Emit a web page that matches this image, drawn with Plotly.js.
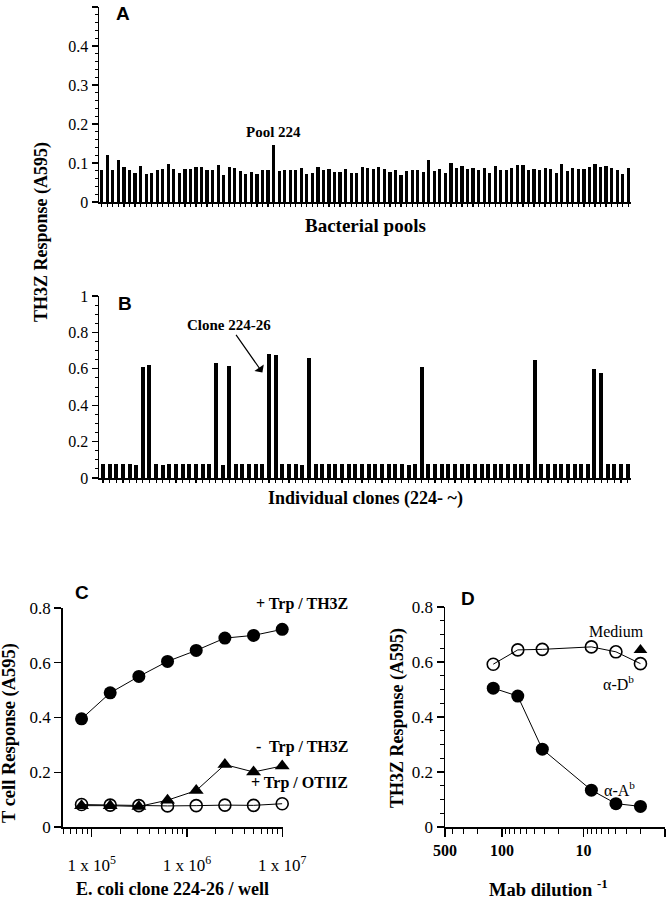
<!DOCTYPE html>
<html>
<head>
<meta charset="utf-8">
<script src="https://cdn.plot.ly/plotly-3.0.1.min.js"></script>
<style>html,body{margin:0;padding:0;background:#fff}#chart{width:667px;height:900px}</style>
</head>
<body>
<div id="chart"></div>
<script>
// ---------- DATA ----------
// Panel A: 96 bacterial pools, TH3Z response (A595)
const poolValues = [
  0.083,0.120,0.081,0.107,0.090,0.081,0.074,0.092,0.073,0.074,0.083,0.085,0.097,0.085,0.074,0.085,
  0.084,0.091,0.091,0.083,0.083,0.094,0.068,0.089,0.087,0.080,0.073,0.077,0.071,0.083,0.083,0.147,
  0.080,0.083,0.083,0.083,0.088,0.073,0.075,0.091,0.083,0.084,0.077,0.077,0.085,0.074,0.074,
  0.090,0.087,0.085,0.091,0.085,0.077,0.081,0.068,0.079,0.081,0.083,0.077,0.107,0.079,0.085,0.075,
  0.101,0.087,0.092,0.085,0.088,0.083,0.088,0.074,0.092,0.081,0.081,0.088,0.094,0.094,0.081,0.085,
  0.083,0.088,0.085,0.075,0.097,0.079,0.088,0.085,0.085,0.090,0.098,0.091,0.092,0.088,0.081,0.073,0.088
];
const poolLabel = "Pool 224";
const poolHighlightIndex = 32;

// Panel B: 80 individual clones (224-1 ... 224-80)
const cloneValues = [
  0.078,0.075,0.075,0.076,0.076,0.074,0.610,0.622,0.075,0.073,0.075,0.077,0.076,0.076,0.076,0.077,
  0.078,0.633,0.074,0.615,0.076,0.076,0.078,0.078,0.077,0.680,0.675,0.075,0.075,0.076,0.074,0.660,
  0.078,0.077,0.077,0.076,0.077,0.077,0.075,0.076,0.077,0.075,0.078,0.075,0.075,0.076,0.074,0.076,
  0.610,0.075,0.076,0.075,0.076,0.077,0.075,0.076,0.077,0.077,0.076,0.075,0.078,0.078,0.077,0.076,
  0.075,0.650,0.076,0.077,0.077,0.076,0.076,0.075,0.076,0.075,0.600,0.575,0.075,0.077,0.077,0.076
];
const cloneLabel = "Clone 224-26";
const cloneHighlightIndex = 26;

// Panel C: E. coli clone 224-26 per well
const cellsPerWell = [78125, 156250, 312500, 625000, 1250000, 2500000, 5000000, 10000000];
const trpTH3Z   = [0.395, 0.490, 0.550, 0.605, 0.645, 0.690, 0.700, 0.722];
const noTrpTH3Z = [0.078, 0.078, 0.075, 0.098, 0.133, 0.228, 0.201, 0.223];
const trpOTIIZ  = [0.082, 0.080, 0.078, 0.077, 0.078, 0.080, 0.079, 0.085];
const cTickVals = [1e5, 1e6, 1e7];
const cTickText = ["1 x 10<sup>5</sup>", "1 x 10<sup>6</sup>", "1 x 10<sup>7</sup>"];

// Panel D: Mab dilution^-1
const mabDilution = [128, 64, 32, 8, 4, 2];
const alphaDb = [0.592, 0.644, 0.646, 0.655, 0.637, 0.594];
const alphaAb = [0.505, 0.476, 0.283, 0.134, 0.085, 0.075];
const mediumDilution = [2];
const mediumValue = [0.644];
const dTickVals = [500, 100, 10, 1];
const dTickText = ["500", "100", "10", "1"];

// ---------- LAYOUT HELPERS ----------
const W = 667, H = 900;
const px = x => x / W;
const py = y => 1 - y / H;
const SERIF = "Liberation Serif, Times New Roman, serif";
const SANS = "Liberation Sans, Arial, sans-serif";

const poolIdx = poolValues.map((_, i) => i + 1);
const cloneIdx = cloneValues.map((_, i) => i + 1);

const openCircle = {symbol:'circle-open', size:12, color:'#000', line:{width:1.6, color:'#000'}};
const filledCircle = {symbol:'circle', size:13, color:'#000'};
const triangle = {symbol:'triangle-up', size:13, color:'#000'};

const traces = [
  {type:'bar', x: poolIdx, y: poolValues, xaxis:'x', yaxis:'y', width:0.58,
   marker:{color:'#000'}, hoverinfo:'skip'},
  {type:'bar', x: cloneIdx, y: cloneValues, xaxis:'x2', yaxis:'y2', width:0.6,
   marker:{color:'#000'}, hoverinfo:'skip'},
  {type:'scatter', mode:'lines+markers', x: cellsPerWell, y: trpOTIIZ, xaxis:'x3', yaxis:'y3', cliponaxis:false,
   line:{color:'#000', width:1}, marker:openCircle},
  {type:'scatter', mode:'lines+markers', x: cellsPerWell, y: noTrpTH3Z, xaxis:'x3', yaxis:'y3', cliponaxis:false,
   line:{color:'#000', width:1}, marker:triangle},
  {type:'scatter', mode:'lines+markers', x: cellsPerWell, y: trpTH3Z, xaxis:'x3', yaxis:'y3', cliponaxis:false,
   line:{color:'#000', width:1}, marker:filledCircle},
  {type:'scatter', mode:'lines+markers', x: mabDilution, y: alphaDb, xaxis:'x4', yaxis:'y4', cliponaxis:false,
   line:{color:'#000', width:1}, marker:openCircle},
  {type:'scatter', mode:'lines+markers', x: mabDilution, y: alphaAb, xaxis:'x4', yaxis:'y4', cliponaxis:false,
   line:{color:'#000', width:1}, marker:filledCircle},
  {type:'scatter', mode:'markers', x: mediumDilution, y: mediumValue, xaxis:'x4', yaxis:'y4', cliponaxis:false,
   marker:{symbol:'triangle-up', size:12, color:'#000'}}
];

const axBase = {showline:true, linecolor:'#000', linewidth:1.5, ticks:'outside', tickcolor:'#000',
  tickwidth:1.2, showgrid:false, zeroline:false, fixedrange:true,
  tickfont:{family:SERIF, size:16, color:'#000'}};

const layout = {
  width: W, height: H, margin:{l:0, r:0, t:0, b:0},
  paper_bgcolor:'#fff', plot_bgcolor:'rgba(0,0,0,0)', showlegend:false,
  font:{family:SERIF, color:'#000'},
  bargap: 0,
  xaxis: Object.assign({}, axBase, {domain:[px(99), px(631)], anchor:'y', range:[0.5, poolValues.length + 0.5],
    tickmode:'linear', tick0:1, dtick:1, ticklen:3, showticklabels:false}),
  yaxis: Object.assign({}, axBase, {domain:[py(202), py(7)], anchor:'x', range:[0, 0.5],
    tickmode:'array', tickvals:[0,0.1,0.2,0.3,0.4,0.5], ticktext:['0','0.1','0.2','0.3','0.4','0.5'],
    ticklen:6, minor:{dtick:0.02, ticklen:3, ticks:'outside', tickcolor:'#000', tickwidth:1}}),
  xaxis2: Object.assign({}, axBase, {domain:[px(99), px(631)], anchor:'y2', range:[0.4, cloneValues.length + 0.5],
    tickmode:'linear', tick0:1, dtick:1, ticklen:3, showticklabels:false}),
  yaxis2: Object.assign({}, axBase, {domain:[py(478), py(296)], anchor:'x2', range:[0, 1],
    tickmode:'array', tickvals:[0,0.2,0.4,0.6,0.8,1], ticktext:['0','0.2','0.4','0.6','0.8','1'],
    ticklen:6, minor:{dtick:0.05, ticklen:3, ticks:'outside', tickcolor:'#000', tickwidth:1}}),
  xaxis3: Object.assign({}, axBase, {domain:[px(62.7), px(282.5)], anchor:'y3', type:'log',
    range:[4.695, 7.003], tickmode:'array', tickvals:cTickVals, ticktext:cTickText, ticklen:8,
    ticklabelstandoff:14, tickfont:{family:SERIF, size:17, color:'#000'},
    minor:{dtick:'D1', ticklen:5, ticks:'outside', tickcolor:'#000', tickwidth:1}}),
  yaxis3: Object.assign({}, axBase, {domain:[py(827), py(608)], anchor:'x3', range:[0, 0.8],
    tickmode:'array', tickvals:[0,0.2,0.4,0.6,0.8], ticktext:['0','0.2','0.4','0.6','0.8'], ticklen:7,
    tickfont:{family:SERIF, size:17, color:'#000'}}),
  xaxis4: Object.assign({}, axBase, {domain:[px(445), px(665)], anchor:'y4', type:'log',
    range:[Math.log10(500), 0], tickmode:'array', tickvals:dTickVals, ticktext:dTickText.map(t => '<b>'+t+'</b>'),
    ticklen:8, tickfont:{family:SERIF, size:16, color:'#000'},
    minor:{dtick:'D1', ticklen:5, ticks:'outside', tickcolor:'#000', tickwidth:1}}),
  yaxis4: Object.assign({}, axBase, {domain:[py(827), py(607)], anchor:'x4', range:[0, 0.8],
    tickmode:'array', tickvals:[0,0.2,0.4,0.6,0.8], ticktext:['0','0.2','0.4','0.6','0.8'], ticklen:7,
    tickfont:{family:SERIF, size:17, color:'#000'},
    minor:{dtick:0.05, ticklen:4, ticks:'outside', tickcolor:'#000', tickwidth:1}}),
  annotations: []
};

const ann = (text, x, y, opts) => Object.assign({xref:'paper', yref:'paper', x:px(x), y:py(y), text:text,
  showarrow:false, xanchor:'center', yanchor:'middle',
  font:{family:SERIF, size:16, color:'#000'}}, opts || {});

layout.annotations.push(
  // panel letters
  ann('<b>A</b>', 123, 14, {font:{family:SANS, size:19, color:'#000'}}),
  ann('<b>B</b>', 125, 303, {font:{family:SANS, size:19, color:'#000'}}),
  ann('<b>C</b>', 82, 592, {font:{family:SANS, size:19, color:'#000'}}),
  ann('<b>D</b>', 468, 598, {font:{family:SANS, size:19, color:'#000'}}),
  // shared y title for A and B
  ann('<b>TH3Z Response (A595)</b>', 41, 232, {textangle:-90, font:{family:SERIF, size:18, color:'#000'}}),
  ann('<b>Bacterial pools</b>', 365, 225, {font:{family:SERIF, size:19, color:'#000'}}),
  ann('<b>Individual clones (224- ~)</b>', 365, 499, {font:{family:SERIF, size:18, color:'#000'}}),
  // Pool 224 label above its bar
  {xref:'x', yref:'y', x: poolIdx[poolHighlightIndex - 1], y: poolValues[poolHighlightIndex - 1],
   text:'<b>'+poolLabel+'</b>', showarrow:false, yanchor:'bottom', yshift:3,
   font:{family:SERIF, size:15, color:'#000'}},
  // Clone 224-26 with arrow
  {xref:'x2', yref:'y2', x: cloneIdx[cloneHighlightIndex - 1] - 1.0, y: cloneValues[cloneHighlightIndex - 1] - 0.1,
   text:'<b>'+cloneLabel+'</b>', showarrow:true, arrowhead:1, arrowsize:1.6, arrowwidth:1.2, arrowcolor:'#000',
   ax:-33, ay:-47, font:{family:SERIF, size:15, color:'#000'}, standoff:0},
  // Panel C
  ann('<b>T cell Response (A595)</b>', 9, 733, {textangle:-90, font:{family:SERIF, size:18.5, color:'#000'}}),
  ann('<b>E. coli clone 224-26 / well</b>', 172, 889, {font:{family:SERIF, size:18, color:'#000'}}),
  ann('<b>+ Trp / TH3Z</b>', 350, 604, {xanchor:'right', font:{family:SERIF, size:16, color:'#000'}}),
  ann('<b>-  Trp / TH3Z</b>', 350, 747, {xanchor:'right', font:{family:SERIF, size:16, color:'#000'}}),
  ann('<b>+ Trp / OTIIZ</b>', 350, 783, {xanchor:'right', font:{family:SERIF, size:16, color:'#000'}}),
  // Panel D
  ann('<b>TH3Z Response (A595)</b>', 397, 718, {textangle:-90, font:{family:SERIF, size:18, color:'#000'}}),
  ann('<b>Mab dilution <sup>-1</sup></b>', 548, 888, {font:{family:SERIF, size:18.5, color:'#000'}}),
  ann('Medium', 616, 631, {font:{family:SERIF, size:16, color:'#000'}}),
  ann('\u03b1-D<sup>b</sup>', 618, 683, {font:{family:SERIF, size:16, color:'#000'}}),
  ann('\u03b1-A<sup>b</sup>', 619, 789, {font:{family:SERIF, size:16, color:'#000'}})
);

Plotly.newPlot('chart', traces, layout, {staticPlot:true, displayModeBar:false});
</script>
</body>
</html>
